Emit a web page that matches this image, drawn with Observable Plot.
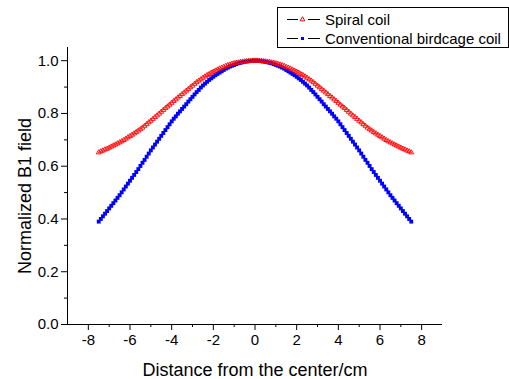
<!DOCTYPE html>
<html>
<head>
<meta charset="utf-8">
<script src="https://cdn.jsdelivr.net/npm/d3@7"></script>
<script src="https://cdn.jsdelivr.net/npm/@observablehq/plot@0.6"></script>
<style>
  html, body { margin: 0; padding: 0; background: #fff; }
  #chart { width: 509px; height: 379px; }
</style>
</head>
<body>
<div id="chart"></div>
<script>
// Distance from the center (cm), step 0.1
const distance = [
  -7.5,-7.4,-7.3,-7.2,-7.1,-7.0,-6.9,-6.8,-6.7,-6.6,
  -6.5,-6.4,-6.3,-6.2,-6.1,-6.0,-5.9,-5.8,-5.7,-5.6,
  -5.5,-5.4,-5.3,-5.2,-5.1,-5.0,-4.9,-4.8,-4.7,-4.6,
  -4.5,-4.4,-4.3,-4.2,-4.1,-4.0,-3.9,-3.8,-3.7,-3.6,
  -3.5,-3.4,-3.3,-3.2,-3.1,-3.0,-2.9,-2.8,-2.7,-2.6,
  -2.5,-2.4,-2.3,-2.2,-2.1,-2.0,-1.9,-1.8,-1.7,-1.6,
  -1.5,-1.4,-1.3,-1.2,-1.1,-1.0,-0.9,-0.8,-0.7,-0.6,
  -0.5,-0.4,-0.3,-0.2,-0.1,0,
  0.1,0.2,0.3,0.4,0.5,
  0.6,0.7,0.8,0.9,1.0,1.1,1.2,1.3,1.4,1.5,
  1.6,1.7,1.8,1.9,2.0,2.1,2.2,2.3,2.4,2.5,
  2.6,2.7,2.8,2.9,3.0,3.1,3.2,3.3,3.4,3.5,
  3.6,3.7,3.8,3.9,4.0,4.1,4.2,4.3,4.4,4.5,
  4.6,4.7,4.8,4.9,5.0,5.1,5.2,5.3,5.4,5.5,
  5.6,5.7,5.8,5.9,6.0,6.1,6.2,6.3,6.4,6.5,
  6.6,6.7,6.8,6.9,7.0,7.1,7.2,7.3,7.4,7.5
];
// Spiral coil normalized B1
const spiral = [
  0.652,0.656,0.659,0.663,0.666,0.670,0.674,0.678,0.682,0.686,
  0.690,0.694,0.699,0.704,0.709,0.714,0.719,0.724,0.729,0.735,
  0.740,0.746,0.753,0.759,0.766,0.772,0.779,0.786,0.792,0.799,
  0.806,0.813,0.820,0.826,0.833,0.840,0.847,0.853,0.860,0.866,
  0.873,0.879,0.886,0.892,0.899,0.905,0.912,0.918,0.924,0.929,
  0.935,0.940,0.945,0.949,0.954,0.958,0.962,0.966,0.970,0.973,
  0.976,0.980,0.983,0.985,0.988,0.990,0.992,0.993,0.995,0.996,
  0.997,0.998,0.999,0.999,1.000,1.000,
  1.000,0.999,0.999,0.998,0.997,
  0.996,0.995,0.993,0.992,0.990,0.988,0.985,0.983,0.980,0.976,
  0.973,0.970,0.966,0.962,0.958,0.954,0.949,0.945,0.940,0.935,
  0.929,0.924,0.918,0.912,0.905,0.899,0.892,0.886,0.879,0.873,
  0.866,0.860,0.853,0.847,0.840,0.833,0.826,0.820,0.813,0.806,
  0.799,0.792,0.786,0.779,0.772,0.766,0.759,0.753,0.746,0.740,
  0.735,0.729,0.724,0.719,0.714,0.709,0.704,0.699,0.694,0.690,
  0.686,0.682,0.678,0.674,0.670,0.666,0.663,0.659,0.656,0.652
];
// Conventional birdcage coil normalized B1
const birdcage = [
  0.390,0.400,0.410,0.420,0.430,0.440,0.450,0.460,0.470,0.480,
  0.490,0.501,0.512,0.523,0.534,0.545,0.556,0.567,0.578,0.589,
  0.601,0.613,0.624,0.636,0.648,0.660,0.671,0.682,0.693,0.704,
  0.715,0.726,0.737,0.748,0.759,0.770,0.780,0.789,0.799,0.808,
  0.817,0.826,0.835,0.845,0.854,0.863,0.872,0.881,0.889,0.898,
  0.906,0.913,0.920,0.927,0.933,0.939,0.945,0.950,0.955,0.960,
  0.965,0.970,0.974,0.978,0.981,0.984,0.987,0.990,0.992,0.994,
  0.996,0.997,0.998,0.999,1.000,1.000,
  1.000,0.999,0.998,0.997,0.996,
  0.994,0.992,0.990,0.987,0.984,0.981,0.978,0.974,0.970,0.965,
  0.960,0.955,0.950,0.945,0.939,0.933,0.927,0.920,0.913,0.906,
  0.898,0.889,0.881,0.872,0.863,0.854,0.845,0.835,0.826,0.817,
  0.808,0.799,0.789,0.780,0.770,0.759,0.748,0.737,0.726,0.715,
  0.704,0.693,0.682,0.671,0.660,0.648,0.636,0.624,0.613,0.601,
  0.589,0.578,0.567,0.556,0.545,0.534,0.523,0.512,0.501,0.490,
  0.480,0.470,0.460,0.450,0.440,0.430,0.420,0.410,0.400,0.390
];
const seriesNames = ["Spiral coil", "Conventional birdcage coil"];
const xMajor = [-8, -6, -4, -2, 0, 2, 4, 6, 8];
const xMinor = [-7, -5, -3, -1, 1, 3, 5, 7];
const yMajor = [0, 0.2, 0.4, 0.6, 0.8, 1.0];
const yMinor = [0.1, 0.3, 0.5, 0.7, 0.9];
const xTitle = "Distance from the center/cm";
const yTitle = "Normalized B1 field";

const spiralData = distance.map((d, i) => ({x: d, y: spiral[i]}));
const birdData = distance.map((d, i) => ({x: d, y: birdcage[i]}));

const font = "'Liberation Sans', Arial, sans-serif";

const svg = Plot.plot({
  width: 509,
  height: 379,
  marginLeft: 67,
  marginRight: 67,
  marginTop: 47,
  marginBottom: 55,
  style: {fontFamily: font, fontSize: "15px", background: "#fff", color: "#000", overflow: "visible"},
  x: {domain: [-9, 9]},
  y: {domain: [0, 1.05]},
  marks: [
    Plot.ruleY([0], {stroke: "#000", strokeWidth: 1}),
    Plot.ruleX([-9], {stroke: "#000", strokeWidth: 1}),
    Plot.axisX({ticks: xMajor, tickSize: 6, tickPadding: 4, fontSize: 15, label: null, tickFormat: d => d < 0 ? "-" + Math.abs(d) : String(d)}),
    Plot.axisX({ticks: xMinor, tickSize: 3, text: null, label: null}),
    Plot.axisY({ticks: yMajor, tickSize: 6, tickPadding: 3, fontSize: 15, label: null, tickFormat: d3.format(".1f")}),
    Plot.axisY({ticks: yMinor, tickSize: 3, text: null, label: null}),
    Plot.dot(birdData, {x: "x", y: "y", symbol: "square", r: 2.2, fill: "#0000ff", stroke: "none"}),
    Plot.dot(spiralData, {x: "x", y: "y", symbol: "triangle", r: 1.8, fill: "none", stroke: "#ff0000", strokeWidth: 0.9}),
    Plot.text([xTitle], {frameAnchor: "bottom", dy: 46, fontSize: 18, fill: "#000", textAnchor: "middle", lineAnchor: "middle"}),
    Plot.text([yTitle], {frameAnchor: "left", dx: -42, dy: 10, rotate: -90, fontSize: 18, fill: "#000", textAnchor: "middle", lineAnchor: "middle"})
  ]
});
document.getElementById("chart").appendChild(svg);

// Legend box (top right)
const g = d3.select(svg).append("g").attr("font-family", font).attr("font-size", 15).attr("text-anchor", "start");
g.append("rect").attr("x", 277.5).attr("y", 7.5).attr("width", 231).attr("height", 40)
  .attr("fill", "#fff").attr("stroke", "#000").attr("stroke-width", 1);
const rows = [
  {name: seriesNames[0], y: 19.5, color: "#ff0000", sym: d3.symbolTriangle},
  {name: seriesNames[1], y: 38.5, color: "#0000ff", sym: d3.symbolSquare}
];
rows.forEach(r => {
  g.append("line").attr("x1", 287).attr("x2", 298).attr("y1", r.y).attr("y2", r.y).attr("stroke", "#000");
  g.append("line").attr("x1", 308).attr("x2", 320).attr("y1", r.y).attr("y2", r.y).attr("stroke", "#000");
  const p = g.append("path").attr("transform", `translate(302.5,${r.y})`)
    .attr("d", d3.symbol(r.sym, r.sym === d3.symbolTriangle ? 10 : 9)());
  if (r.sym === d3.symbolTriangle) p.attr("fill", "none").attr("stroke", r.color);
  else p.attr("fill", r.color);
  g.append("text").attr("x", 325).attr("y", r.y + 5.3).attr("fill", "#000").attr("text-anchor", "start").text(r.name);
});
</script>
</body>
</html>
